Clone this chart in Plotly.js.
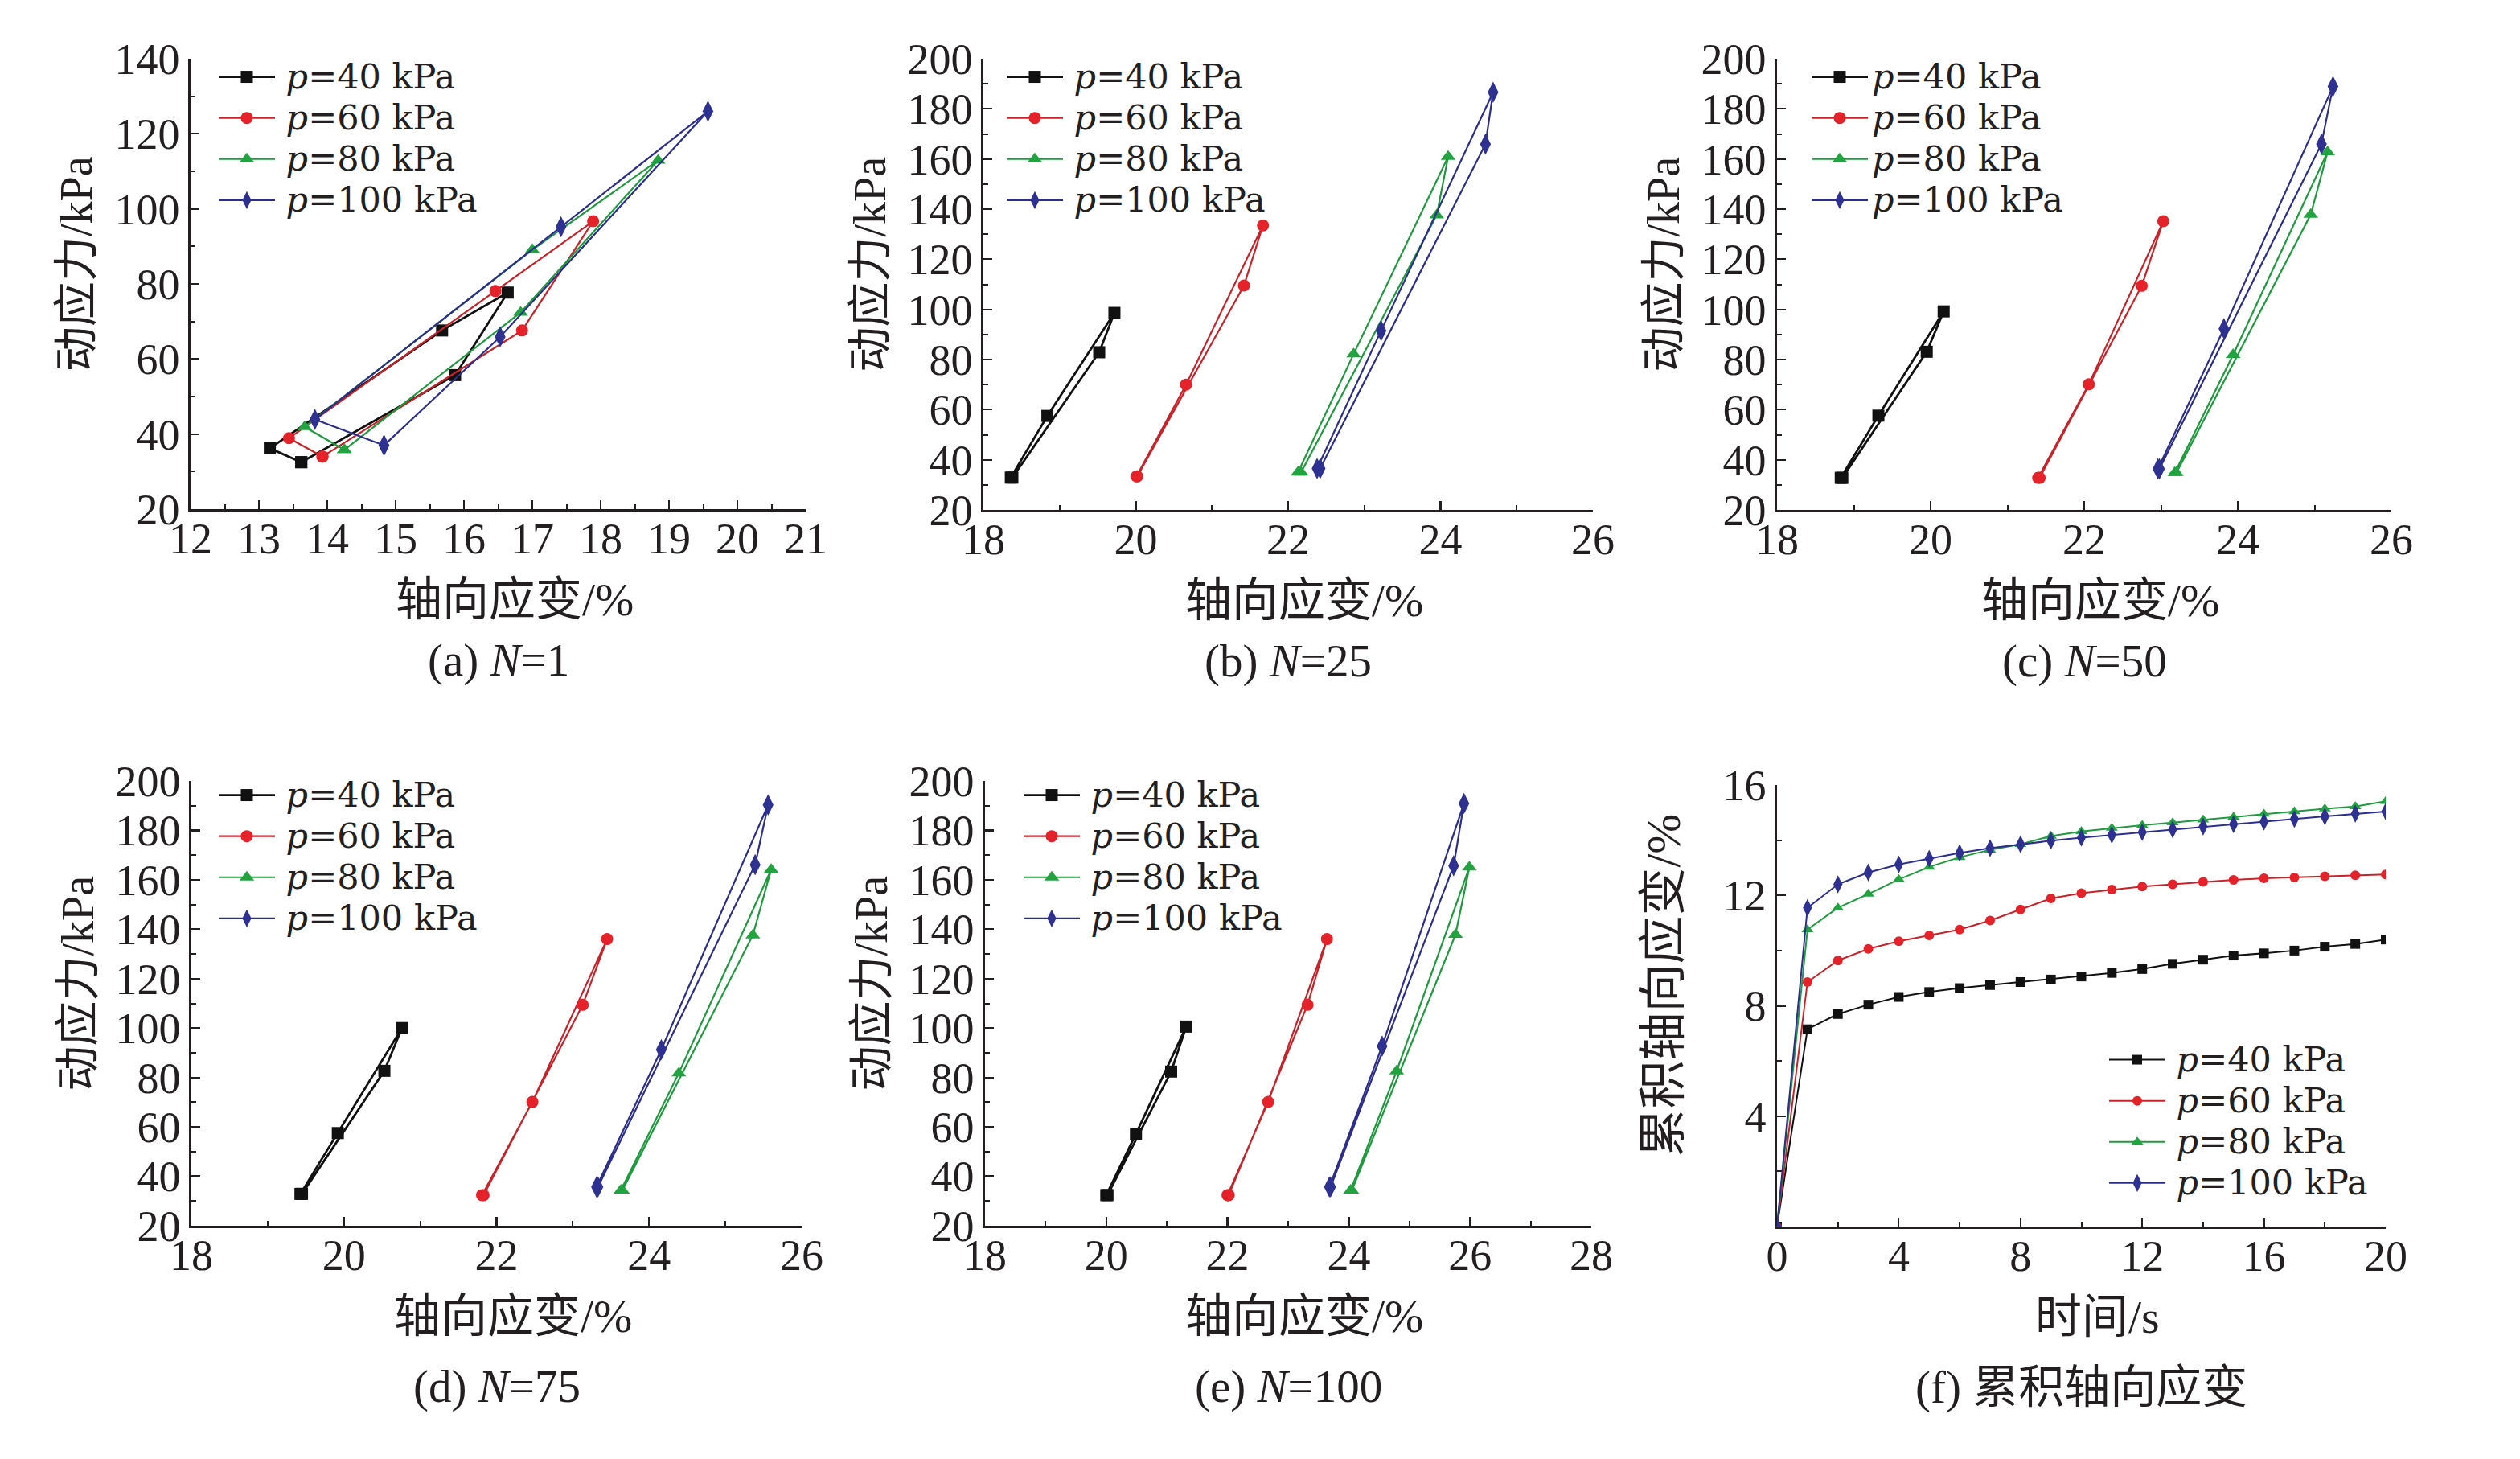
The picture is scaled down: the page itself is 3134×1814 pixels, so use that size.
<!DOCTYPE html>
<html>
<head>
<meta charset="utf-8">
<script src="https://cdn.plot.ly/plotly-3.0.1.min.js"></script>
<style>html,body{margin:0;padding:0;background:#fff;}#chart{width:3134px;height:1814px;}</style>
</head>
<body>
<div id="chart"></div>
<script>
// ---------------- DATA ----------------
const seriesNames = ['<i>p</i>=40 kPa', '<i>p</i>=60 kPa', '<i>p</i>=80 kPa', '<i>p</i>=100 kPa'];

// (a) N=1 : axial strain (%) / dynamic stress (kPa)
const strainA40 = [13.62, 15.87, 16.64, 15.68, 13.16, 13.62];
const stressA40 = [32.5, 55.7, 77.7, 67.6, 36.2, 32.5];
const strainA60 = [13.93, 16.85, 17.89, 16.46, 13.44, 13.93];
const stressA60 = [34.0, 67.6, 96.7, 78.1, 38.9, 34.0];
const strainA80 = [14.25, 16.83, 18.84, 17.00, 13.67, 14.25];
const stressA80 = [35.8, 72.4, 112.9, 89.1, 41.9, 35.8];
const strainA100 = [14.83, 16.53, 19.57, 17.42, 13.82, 14.83];
const stressA100 = [37.0, 65.9, 126.0, 95.2, 43.9, 37.0];

// (b) N=25
const strainB40 = [18.36, 18.84, 19.72, 19.52, 18.38];
const stressB40 = [32.9, 57.5, 98.6, 82.9, 32.9];
const strainB60 = [20.01, 20.66, 21.67, 21.42, 20.02];
const stressB60 = [33.4, 70.0, 133.5, 109.5, 33.4];
const strainB80 = [22.13, 22.86, 24.10, 23.95, 22.17];
const stressB80 = [35.0, 82.2, 160.9, 137.6, 35.0];
const strainB100 = [22.38, 23.22, 24.69, 24.59, 22.42];
const stressB100 = [36.5, 91.5, 186.6, 165.9, 36.5];

// (c) N=50
const strainC40 = [18.83, 19.32, 20.17, 19.95, 18.85];
const stressC40 = [32.8, 57.6, 99.2, 83.1, 32.8];
const strainC60 = [21.40, 22.06, 23.03, 22.75, 21.42];
const stressC60 = [32.8, 70.1, 135.2, 109.4, 32.8];
const strainC80 = [23.18, 23.94, 25.17, 24.95, 23.20];
const stressC80 = [34.8, 81.9, 162.8, 137.8, 34.8];
const strainC100 = [22.96, 23.82, 25.24, 25.09, 22.98];
const stressC100 = [36.4, 92.3, 188.9, 166.0, 36.4];

// (d) N=75
const strainD40 = [19.43, 19.92, 20.76, 20.53, 19.45];
const stressD40 = [32.9, 57.5, 100.0, 82.7, 32.9];
const strainD60 = [21.81, 22.47, 23.45, 23.13, 21.83];
const stressD60 = [32.4, 70.1, 136.0, 109.4, 32.4];
const strainD80 = [23.63, 24.39, 25.60, 25.36, 23.65];
const stressD80 = [34.3, 81.8, 164.1, 137.6, 34.3];
const strainD100 = [23.31, 24.16, 25.56, 25.39, 23.33];
const stressD100 = [35.7, 91.3, 190.3, 166.1, 35.7];

// (e) N=100
const strainE40 = [20.00, 20.49, 21.32, 21.07, 20.02];
const stressE40 = [32.4, 57.2, 100.6, 82.4, 32.4];
const strainE60 = [22.00, 22.67, 23.64, 23.32, 22.02];
const stressE60 = [32.4, 70.1, 136.0, 109.4, 32.4];
const strainE80 = [24.03, 24.79, 25.99, 25.76, 24.05];
const stressE80 = [34.3, 82.6, 165.1, 137.8, 34.3];
const strainE100 = [23.68, 24.55, 25.90, 25.73, 23.70];
const stressE100 = [35.7, 92.7, 190.9, 165.7, 35.7];

// (f) cumulative axial strain (%) vs time (s)
const timeF = [0,1,2,3,4,5,6,7,8,9,10,11,12,13,14,15,16,17,18,19,20];
const cumF40 = [0, 7.15, 7.70, 8.04, 8.32, 8.50, 8.64, 8.75, 8.86, 8.95, 9.06, 9.19, 9.33, 9.52, 9.67, 9.82, 9.90, 10.00, 10.14, 10.24, 10.40];
const cumF60 = [0, 8.86, 9.64, 10.06, 10.34, 10.55, 10.76, 11.09, 11.49, 11.89, 12.08, 12.21, 12.32, 12.40, 12.49, 12.56, 12.62, 12.65, 12.69, 12.73, 12.76];
const cumF80 = [0, 10.76, 11.55, 12.05, 12.58, 13.03, 13.38, 13.65, 13.85, 14.15, 14.32, 14.44, 14.54, 14.64, 14.74, 14.84, 14.95, 15.04, 15.14, 15.22, 15.41];
const cumF100 = [0, 11.55, 12.40, 12.83, 13.12, 13.33, 13.54, 13.71, 13.85, 13.98, 14.09, 14.19, 14.29, 14.39, 14.49, 14.58, 14.67, 14.77, 14.86, 14.96, 15.04];

const captions = ['(a) <i>N</i>=1', '(b) <i>N</i>=25', '(c) <i>N</i>=50', '(d) <i>N</i>=75', '(e) <i>N</i>=100', '(f) 累积轴向应变'];
const xTitles = ['轴向应变/%', '轴向应变/%', '轴向应变/%', '轴向应变/%', '轴向应变/%', '时间/s'];
const yTitles = ['动应力/kPa', '动应力/kPa', '动应力/kPa', '动应力/kPa', '动应力/kPa', '累积轴向应变/%'];

// ---------------- STYLE ----------------
const W = 3134, H = 1814;
const SERIF = '"Liberation Serif", "Times New Roman", "Noto Sans CJK SC", serif';
const LEGSERIF = '"DejaVu Serif", "Liberation Serif", serif';
const INK = '#231f20';
const lineColors = ['#111111', '#c8232b', '#1f9a3e', '#2d2e8c'];
const markerColors = ['#111111', '#e5222a', '#21a33f', '#2f3192'];
const symbols = ['square', 'circle', 'triangle-up', 'diamond-tall'];
const markerSizes = [15, 15, 16, 19];
const lineWidths = [2.8, 2.2, 2.2, 2.2];

// panel geometry in pixels: [left, right, top, bottom]
const boxes = [
  [237, 1002, 73, 633],
  [1223, 1981, 73, 634],
  [2210, 2974, 73, 634],
  [238, 997, 971, 1524],
  [1225, 1979, 971, 1524],
  [2210, 2967, 976, 1525]
];
const xRanges = [[12, 21], [18, 26], [18, 26], [18, 26], [18, 28], [0, 20]];
const yRanges = [[20, 140], [20, 200], [20, 200], [20, 200], [20, 200], [0, 16]];
const xDticks = [1, 2, 2, 2, 2, 4];
const xMinor = [0.5, 1, 1, 1, 1, 2];
const yDticks = [20, 20, 20, 20, 20, 4];
const yMinor = [10, 10, 10, 10, 10, 2];
const legendPos = [[267, 65], [1247, 65], [2248, 65], [267, 958], [1268, 958], [2618, 1287]];
const legendGap = ['\u2009', '\u2009', '', '\u2009', '\u2009', '\u2009'];
const captionGap = [188, 188, 188, 200, 200, 200];

const fx = p => p / W;
const fy = p => 1 - p / H;

const loopData = [
  [[strainA40, stressA40], [strainA60, stressA60], [strainA80, stressA80], [strainA100, stressA100]],
  [[strainB40, stressB40], [strainB60, stressB60], [strainB80, stressB80], [strainB100, stressB100]],
  [[strainC40, stressC40], [strainC60, stressC60], [strainC80, stressC80], [strainC100, stressC100]],
  [[strainD40, stressD40], [strainD60, stressD60], [strainD80, stressD80], [strainD100, stressD100]],
  [[strainE40, stressE40], [strainE60, stressE60], [strainE80, stressE80], [strainE100, stressE100]],
  [[timeF, cumF40], [timeF, cumF60], [timeF, cumF80], [timeF, cumF100]]
];

const traces = [];
const layout = {
  width: W, height: H,
  margin: {l: 0, r: 0, t: 0, b: 0},
  paper_bgcolor: '#ffffff', plot_bgcolor: 'rgba(0,0,0,0)',
  font: {family: SERIF, color: INK},
  showlegend: true,
  annotations: []
};

for (let i = 0; i < 6; i++) {
  const n = i === 0 ? '' : String(i + 1);
  const xa = 'x' + n, ya = 'y' + n, leg = 'legend' + n;
  const [l, r, t, b] = boxes[i];
  const isF = i === 5;
  layout['xaxis' + n] = {
    domain: [fx(l), fx(r)], anchor: ya, range: xRanges[i],
    tickmode: 'linear', tick0: 0, dtick: xDticks[i],
    ticks: 'inside', ticklen: 11, tickwidth: 2.2, tickcolor: INK,
    minor: {ticks: 'inside', ticklen: 6, tickwidth: 2, tickcolor: INK, dtick: xMinor[i], tick0: 0},
    showline: true, linewidth: 2.6, linecolor: INK,
    showgrid: false, zeroline: false,
    ticklabelstandoff: -12,
    tickfont: {family: SERIF, size: 54, color: INK},
    fixedrange: true
  };
  const yax = {
    domain: [fy(b), fy(t)], anchor: xa, range: yRanges[i],
    ticks: 'inside', ticklen: 11, tickwidth: 2.2, tickcolor: INK,
    minor: {ticks: 'inside', ticklen: 6, tickwidth: 2, tickcolor: INK, dtick: yMinor[i], tick0: 0},
    showline: true, linewidth: 2.6, linecolor: INK,
    showgrid: false, zeroline: false,
    tickfont: {family: SERIF, size: 54, color: INK},
    fixedrange: true
  };
  if (isF) { yax.tickmode = 'array'; yax.tickvals = [4, 8, 12, 16]; }
  else { yax.tickmode = 'linear'; yax.tick0 = 0; yax.dtick = yDticks[i]; }
  layout['yaxis' + n] = yax;

  layout[leg] = {
    x: fx(legendPos[i][0]), y: fy(legendPos[i][1]), xanchor: 'left', yanchor: 'top',
    bgcolor: 'rgba(255,255,255,0)', borderwidth: 0,
    font: {family: LEGSERIF, size: 37, color: INK},
    itemwidth: 70, tracegroupgap: 0, traceorder: 'normal', itemclick: false, itemdoubleclick: false
  };

  for (let k = 0; k < 4; k++) {
    traces.push({
      type: 'scatter', mode: 'lines+markers',
      x: loopData[i][k][0], y: loopData[i][k][1],
      xaxis: xa, yaxis: ya, legend: leg,
      name: '<span style="font-size:43px">' + legendGap[i] + seriesNames[k] + '</span>',
      line: {color: lineColors[k], width: isF ? 2 : lineWidths[k]},
      marker: {symbol: symbols[k], size: isF ? markerSizes[k] - 3 : markerSizes[k], color: markerColors[k], line: {width: 0}},
      hoverinfo: 'skip'
    });
  }

  const cx = (l + r) / 2;
  // x-axis title
  layout.annotations.push({
    xref: 'paper', yref: 'paper', x: fx(cx + 20), y: fy(b + 112),
    xanchor: 'center', yanchor: 'middle', showarrow: false,
    text: xTitles[i], font: {family: SERIF, size: 58, color: INK}
  });
  // caption
  layout.annotations.push({
    xref: 'paper', yref: 'paper', x: fx(cx), y: fy(b + captionGap[i]),
    xanchor: 'center', yanchor: 'middle', showarrow: false,
    text: captions[i], font: {family: SERIF, size: 57, color: INK}
  });
  // y-axis title
  layout.annotations.push({
    xref: 'paper', yref: 'paper', x: fx(l - 142), y: fy((t + b) / 2 - 25),
    xanchor: 'center', yanchor: 'middle', showarrow: false, textangle: -90,
    text: yTitles[i], font: {family: SERIF, size: isF ? 60 : 56, color: INK}
  });
}

Plotly.newPlot('chart', traces, layout, {staticPlot: true, displayModeBar: false});
</script>
</body>
</html>
